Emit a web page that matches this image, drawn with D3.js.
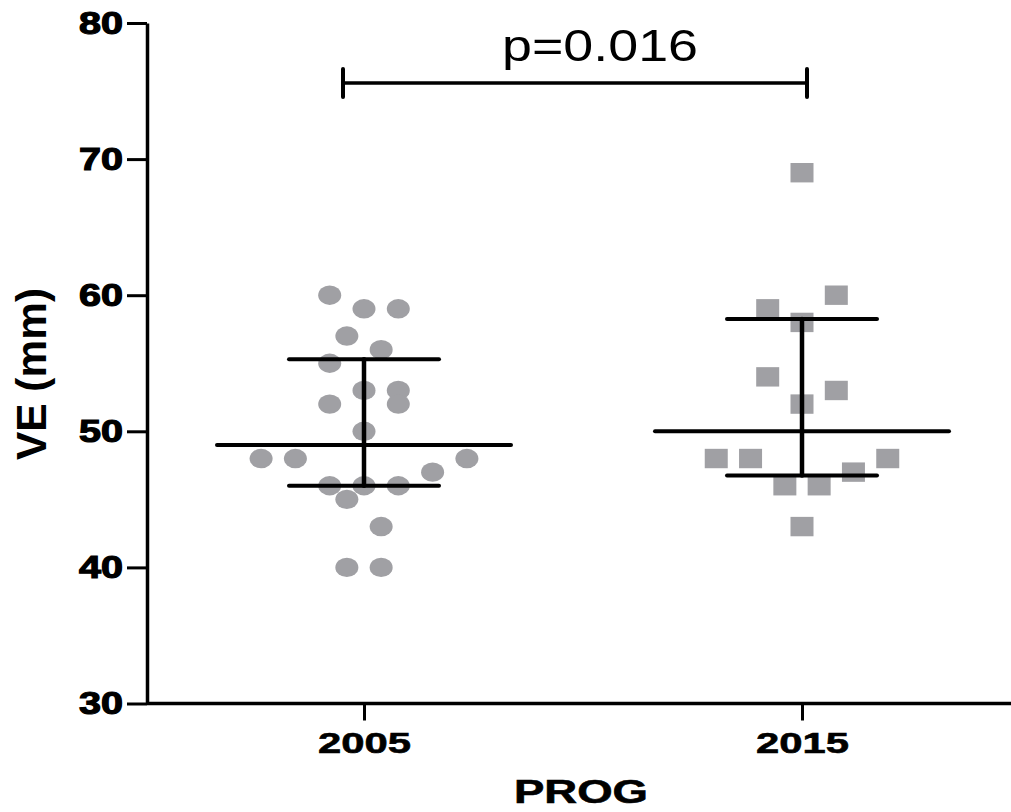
<!DOCTYPE html>
<html><head><meta charset="utf-8">
<script src="https://cdn.jsdelivr.net/npm/d3@7"></script>
<style>body{margin:0;background:#fff}svg{display:block}</style>
</head><body>
<script>
// ---- data ----
const categories = ["2005", "2015"];
const values2005 = [60, 59, 59, 57, 56, 55, 53, 53, 52, 52, 50, 48, 48, 48, 47, 46, 46, 46, 45, 43, 40, 40];
const slots2005  = [-1, 0, 1, -0.5, 0.5, -1, 0, 1, 1, -1, 0, -3, -2, 3, 2, -1, 0, 1, -0.5, 0.5, -0.5, 0.5];
const values2015 = [69, 60, 59, 58, 54, 53, 52, 48, 48, 48, 47, 46, 46, 43];
const slots2015  = [0, 1, -1, 0, -1, 1, 0, -2.5, -1.5, 2.5, 1.5, -0.5, 0.5, 0];
const medians = [49, 50];
const q1s = [46, 46.75];
const q3s = [55.3, 58.25];
const yTicks = [30, 40, 50, 60, 70, 80];
const pLabel = "p=0.016";
const bracketValue = 75.6;

const W = 1011, H = 812;
const svg = d3.select("body").append("svg").attr("width", W).attr("height", H);

const y = d3.scaleLinear().domain([30, 80]).range([703.5, 23]);
const x = d3.scalePoint().domain(categories).range([145, 1021]).padding(0.5);
const slotPx = 34.3;
const gray = "#a0a0a4";

// y axis
const gy = svg.append("g").attr("transform", "translate(147,0)")
  .call(d3.axisLeft(y).tickValues(yTicks).tickSize(20).tickSizeOuter(0).tickPadding(4));
gy.select(".domain").attr("stroke", "#000").attr("stroke-width", 3.5);
gy.selectAll(".tick line").attr("stroke", "#000").attr("stroke-width", 3);
gy.selectAll(".tick text").attr("font-family", "Liberation Sans, Arial, sans-serif")
  .attr("font-weight", "bold").attr("font-size", 32).attr("fill", "#000")
  .attr("stroke", "#000").attr("stroke-width", 1.2)
  .attr("dy", "10").attr("y", 0)
  .attr("textLength", 44).attr("lengthAdjust", "spacingAndGlyphs");

// x axis
const gx = svg.append("g").attr("transform", `translate(0,${y(30)})`)
  .call(d3.axisBottom(x).tickSize(17).tickSizeOuter(0).tickPadding(0));
gx.select(".domain").attr("stroke", "#000").attr("stroke-width", 3.5)
  .attr("d", `M147,0H1021`);
gx.selectAll(".tick line").attr("stroke", "#000").attr("stroke-width", 3);
gx.selectAll(".tick text").attr("font-family", "Liberation Sans, Arial, sans-serif")
  .attr("font-weight", "bold").attr("font-size", 30).attr("fill", "#000")
  .attr("stroke", "#000").attr("stroke-width", 0.6)
  .attr("dy", 0).attr("y", 49)
  .attr("textLength", 93).attr("lengthAdjust", "spacingAndGlyphs");

// axis titles
svg.append("text").attr("x", 581).attr("y", 803).attr("text-anchor", "middle")
  .attr("font-family", "Liberation Sans, Arial, sans-serif").attr("font-weight", "bold")
  .attr("font-size", 33).attr("textLength", 134).attr("lengthAdjust", "spacingAndGlyphs")
  .attr("stroke", "#000").attr("stroke-width", 0.6)
  .text("PROG");
svg.append("text").attr("transform", "translate(46,374) rotate(-90)").attr("text-anchor", "middle")
  .attr("font-family", "Liberation Sans, Arial, sans-serif").attr("font-weight", "bold")
  .attr("font-size", 42).attr("textLength", 172).attr("lengthAdjust", "spacingAndGlyphs")
  .text("VE (mm)");

// points
const pts2005 = values2005.map((v, i) => ({v, s: slots2005[i]}));
const pts2015 = values2015.map((v, i) => ({v, s: slots2015[i]}));
svg.append("g").selectAll("ellipse").data(pts2005).join("ellipse")
  .attr("cx", d => x("2005") + d.s * slotPx).attr("cy", d => y(d.v))
  .attr("rx", 11.5).attr("ry", 9.7).attr("fill", gray);
svg.append("g").selectAll("rect").data(pts2015).join("rect")
  .attr("x", d => x("2015") + d.s * slotPx - 11.5).attr("y", d => y(d.v) - 9.7)
  .attr("width", 23).attr("height", 19.4).attr("fill", gray);

// median + IQR error bars
const eb = svg.append("g").attr("stroke", "#000").attr("stroke-linecap", "round");
categories.forEach((c, i) => {
  const cx = x(c);
  eb.append("line").attr("x1", cx - 147).attr("x2", cx + 147)
    .attr("y1", y(medians[i])).attr("y2", y(medians[i])).attr("stroke-width", 4);
  eb.append("line").attr("x1", cx).attr("x2", cx)
    .attr("y1", y(q3s[i])).attr("y2", y(q1s[i])).attr("stroke-width", 4.5);
  [q1s[i], q3s[i]].forEach(q => {
    eb.append("line").attr("x1", cx - 75).attr("x2", cx + 75)
      .attr("y1", y(q)).attr("y2", y(q)).attr("stroke-width", 4);
  });
});

// significance bracket
const bx1 = x("2005") - 21, bx2 = x("2015") + 5, by = y(bracketValue);
const br = svg.append("g").attr("stroke", "#000").attr("stroke-linecap", "round");
br.append("line").attr("x1", bx1).attr("x2", bx2).attr("y1", by).attr("y2", by).attr("stroke-width", 3.5);
[bx1, bx2].forEach(bx => br.append("line").attr("x1", bx).attr("x2", bx)
  .attr("y1", by - 14).attr("y2", by + 14).attr("stroke-width", 4));
svg.append("text").attr("x", 600).attr("y", 61).attr("text-anchor", "middle")
  .attr("font-family", "Liberation Sans, Arial, sans-serif")
  .attr("font-size", 45).attr("textLength", 196).attr("lengthAdjust", "spacingAndGlyphs")
  .text(pLabel);
</script>
</body></html>
